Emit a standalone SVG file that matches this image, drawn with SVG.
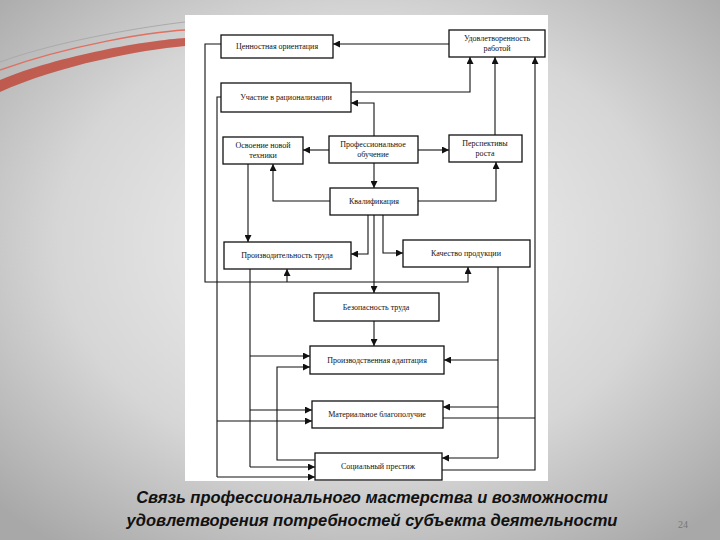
<svg xmlns="http://www.w3.org/2000/svg" width="720" height="540" viewBox="0 0 720 540">
<defs>
<radialGradient id="bg" cx="50%" cy="45%" r="70%"><stop offset="0" stop-color="#f4f4f4"/><stop offset="0.6" stop-color="#d6d6d6"/><stop offset="1" stop-color="#a8a8a8"/></radialGradient>
<marker id="a" viewBox="0 0 10 10" refX="10" refY="5" markerWidth="7" markerHeight="7" orient="auto" markerUnits="userSpaceOnUse"><path d="M0,0L10,5L0,10z" fill="#111"/></marker>
<style>
.b{fill:#fff;stroke:#111;stroke-width:1.3}
.t{font-family:"Liberation Serif",serif;font-size:8px;fill:#111;text-anchor:middle}
.c path{fill:none;stroke:#111;stroke-width:1.1}
.ar{marker-end:url(#a)}
.cap{font-family:"Liberation Sans",sans-serif;font-size:16.5px;font-weight:bold;font-style:italic;fill:#111;text-anchor:middle}
</style>
</defs>
<rect width="720" height="540" fill="url(#bg)"/>
<path d="M0,80 C60,55 150,40 185,38 L185,46 C140,50 60,65 0,92z" fill="#c0392b" opacity="0.75"/>
<path d="M0,70 C70,45 150,32 185,30" stroke="#e07060" stroke-width="1.5" fill="none"/>
<path d="M0,62 C60,40 150,26 185,22" stroke="#aaa" stroke-width="1" fill="none"/>
<rect x="185" y="15" width="363" height="466" fill="#fff"/>
<g class="c">
<path class="ar" d="M449,44H333"/>
<path class="ar" d="M221,44H205V282H468V267"/>
<path class="ar" d="M287,282V269"/>
<path d="M221,97H217V477"/>
<path class="ar" d="M217,477H315"/>
<path class="ar" d="M217,421H312"/>
<path class="ar" d="M351,92H470V57"/>
<path class="ar" d="M374,136V103H351"/>
<path class="ar" d="M329,150H303"/>
<path class="ar" d="M418,150H449"/>
<path class="ar" d="M374,163V188"/>
<path class="ar" d="M330,201H273V164"/>
<path class="ar" d="M418,201H496V162"/>
<path class="ar" d="M495,135V57"/>
<path class="ar" d="M442,470H535V57"/>
<path d="M443,418H535"/>
<path class="ar" d="M248,164V242"/>
<path class="ar" d="M368,215V254H351"/>
<path class="ar" d="M383,215V253H403"/>
<path class="ar" d="M374,215V293"/>
<path class="ar" d="M374,321V346"/>
<path d="M250,269V467"/>
<path class="ar" d="M250,356H310"/>
<path class="ar" d="M250,410H312"/>
<path class="ar" d="M250,467H315"/>
<path class="ar" d="M315,460H277V367H310"/>
<path d="M498,267V458"/>
<path class="ar" d="M498,360H444"/>
<path class="ar" d="M498,407H443"/>
<path class="ar" d="M498,458H442"/>
</g>
<g id="n1"><rect class="b" x="221" y="35" width="112" height="23"/><text class="t" x="277" y="49">Ценностная ориентация</text></g>
<g id="n2"><rect class="b" x="449" y="30" width="96" height="27"/><text class="t" x="497" y="41">Удовлетворенность</text><text class="t" x="497" y="51">работой</text></g>
<g id="n3"><rect class="b" x="221" y="83" width="130" height="29"/><text class="t" x="286" y="100">Участие в рационализации</text></g>
<g id="n4"><rect class="b" x="223" y="137" width="80" height="27"/><text class="t" x="263" y="148">Освоение новой</text><text class="t" x="263" y="158">техники</text></g>
<g id="n5"><rect class="b" x="329" y="136" width="89" height="27"/><text class="t" x="373" y="147">Профессиональное</text><text class="t" x="373" y="157">обучение</text></g>
<g id="n6"><rect class="b" x="449" y="135" width="73" height="27"/><text class="t" x="485" y="146">Перспективы</text><text class="t" x="485" y="156">роста</text></g>
<g id="n7"><rect class="b" x="330" y="188" width="88" height="27"/><text class="t" x="374" y="204">Квалификация</text></g>
<g id="n8"><rect class="b" x="224" y="242" width="127" height="27"/><text class="t" x="287" y="258">Производительность труда</text></g>
<g id="n9"><rect class="b" x="403" y="240" width="127" height="27"/><text class="t" x="466" y="256">Качество продукции</text></g>
<g id="n10"><rect class="b" x="314" y="293" width="125" height="28"/><text class="t" x="376" y="310">Безопасность труда</text></g>
<g id="n11"><rect class="b" x="310" y="346" width="134" height="28"/><text class="t" x="377" y="363">Производственная адаптация</text></g>
<g id="n12"><rect class="b" x="312" y="401" width="131" height="27"/><text class="t" x="377" y="417">Материальное благополучие</text></g>
<g id="n13"><rect class="b" x="315" y="453" width="127" height="27"/><text class="t" x="378" y="469">Социальный престиж</text></g>
<text class="cap" x="372" y="503">Связь профессионального мастерства и возможности</text>
<text class="cap" x="372" y="526">удовлетворения потребностей субъекта деятельности</text>
<text x="678" y="528" font-family="Liberation Serif,serif" font-size="10" fill="#777">24</text>
</svg>
